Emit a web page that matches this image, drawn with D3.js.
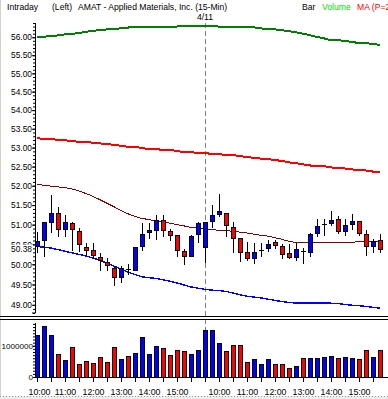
<!DOCTYPE html>
<html>
<head>
<meta charset="utf-8">
<script src="https://cdn.jsdelivr.net/npm/d3@7"></script>
<style>
  html, body { margin: 0; padding: 0; background: #fff; }
  svg { display: block; font-family: "Liberation Sans", Arial, sans-serif; }
</style>
</head>
<body>
<svg id="chart" width="388" height="399"></svg>
<script>
// Bars: 15-minute sessions, 4/10 from 10:00 and 4/11 from 9:30
const day1Times = ["10:00","10:15","10:30","10:45","11:00","11:15","11:30","11:45","12:00","12:15","12:30","12:45",
                   "13:00","13:15","13:30","13:45","14:00","14:15","14:30","14:45","15:00","15:15","15:30","15:45"];
const day2Times = ["9:30","9:45","10:00","10:15","10:30","10:45","11:00","11:15","11:30","11:45","12:00","12:15","12:30",
                   "12:45","13:00","13:15","13:30","13:45","14:00","14:15","14:30","14:45","15:00","15:15","15:30","15:45"];

const opens  = [50.45,50.61,51.08,51.29,50.89,51.05,50.85,50.43,50.36,50.18,50.05,49.91,49.69,49.88,49.86,50.46,50.81,50.86,51.12,50.84,50.74,50.33,50.22,50.77,
                50.43,51.10,51.26,51.29,50.95,50.66,50.30,50.17,50.35,50.40,50.56,50.45,50.28,50.19,50.33,50.30,50.79,51.02,51.04,51.14,50.85,51.01,51.10,50.76,50.47,50.61];
const highs  = [50.82,51.06,51.76,51.46,51.25,51.08,50.91,50.53,50.53,50.28,50.15,49.95,49.95,50.00,50.44,51.04,51.04,51.25,51.25,50.90,50.74,50.38,50.74,51.08,
                51.06,51.50,51.78,51.29,51.08,50.66,50.57,50.53,50.53,50.61,50.61,50.50,50.50,50.53,50.40,50.79,51.15,51.14,51.35,51.21,51.14,51.27,51.10,50.87,50.64,50.77];
const lows   = [50.32,50.21,50.82,50.72,50.72,50.36,50.33,50.24,50.18,49.86,49.87,49.49,49.56,49.76,49.86,50.36,50.65,50.64,50.72,50.62,50.21,50.02,50.22,50.57,
                50.07,50.95,51.21,50.70,50.31,50.08,50.10,50.04,50.21,50.34,50.40,50.15,50.15,50.12,50.04,50.21,50.72,50.74,50.98,50.79,50.74,50.89,50.74,50.24,50.31,50.31];
const closes = [50.58,51.06,51.30,50.89,51.06,50.89,50.51,50.36,50.24,50.10,49.98,49.69,49.91,49.88,50.43,50.76,50.86,51.12,50.86,50.74,50.36,50.21,50.70,51.04,
                51.06,51.24,51.34,50.99,50.67,50.31,50.15,50.30,50.35,50.51,50.48,50.25,50.19,50.38,50.33,50.76,50.97,51.02,51.12,50.85,51.00,51.10,50.79,50.45,50.59,50.38];
const volumes = [1344000,1634000,1344000,731000,559000,946000,409000,527000,441000,656000,495000,946000,591000,688000,753000,1270000,730000,990000,914000,700000,860000,830000,730000,860000,
                 1505000,1505000,1075000,817000,1020000,1020000,495000,590000,430000,590000,430000,430000,300000,366000,624000,624000,624000,656000,688000,624000,656000,624000,591000,850000,656000,850000];

// overlay lines
const greenLine  = [56.00,56.01,56.04,56.05,56.08,56.09,56.12,56.15,56.18,56.20,56.22,56.23,56.25,56.27,56.30,56.30,56.30,56.30,56.30,56.30,56.30,56.32,56.32,56.32,
                    56.32,56.32,56.30,56.30,56.30,56.30,56.29,56.28,56.25,56.22,56.22,56.20,56.17,56.14,56.10,56.06,56.01,55.97,55.92,55.92,55.90,55.87,55.84,55.84,55.81,55.79];
const redLine    = [53.25,53.23,53.22,53.21,53.19,53.18,53.15,53.15,53.13,53.11,53.10,53.07,53.05,53.02,53.02,52.99,52.96,52.96,52.94,52.94,52.91,52.88,52.88,52.86,
                    52.86,52.83,52.83,52.80,52.80,52.78,52.75,52.73,52.71,52.70,52.67,52.65,52.61,52.59,52.56,52.53,52.51,52.51,52.48,52.45,52.45,52.43,52.40,52.40,52.37,52.35];
const maroonLine = [52.04,52.01,51.99,51.97,51.95,51.92,51.87,51.80,51.73,51.64,51.55,51.46,51.37,51.28,51.21,51.16,51.13,51.10,51.07,51.04,51.00,50.97,50.93,50.91,
                    50.89,50.87,50.86,50.85,50.83,50.81,50.79,50.76,50.73,50.71,50.67,50.63,50.58,50.55,50.55,50.55,50.55,50.55,50.55,50.55,50.55,50.55,50.57,50.58,50.58,50.58];
const blueLine   = [50.45,50.43,50.41,50.37,50.33,50.29,50.25,50.21,50.16,50.10,50.03,49.96,49.88,49.81,49.75,49.69,49.67,49.65,49.62,49.58,49.54,49.49,49.44,49.41,
                    49.38,49.36,49.35,49.33,49.29,49.25,49.21,49.19,49.17,49.14,49.11,49.08,49.06,49.04,49.04,49.04,49.04,49.04,49.04,49.03,49.01,48.99,48.98,48.96,48.94,48.92];

const priceTicks = [49, 49.5, 50, 50.5, 51, 51.5, 52, 52.5, 53, 53.5, 54, 54.5, 55, 55.5, 56];
const volumeTicks = [0, 1000000];
const lastPrice = 50.38;

const width = 388, height = 399;
const svg = d3.select("#chart");
const upColor = "#0000ff", downColor = "#ff0000";

const keys = [...day1Times.map(t => "4/10 " + t), ...day2Times.map(t => "4/11 " + t)];
const bars = keys.map((k, i) => ({
  key: k, time: k.split(" ")[1],
  open: opens[i], high: highs[i], low: lows[i], close: closes[i], volume: volumes[i],
  volUp: i === 0 ? true : closes[i] >= closes[i - 1]
}));

const x = d3.scalePoint().domain(keys).range([36.7, 379.7]);
const y = d3.scaleLog().domain([48.8, 56.4]).range([313, 23]);
const yv = d3.scaleLinear().domain([0, 1730000]).range([377, 323]);
const px = k => Math.round(x(k));

// frame bits
svg.append("rect").attr("x", 0).attr("y", 0).attr("width", 1).attr("height", height).attr("fill", "#d4d0c8");
svg.append("rect").attr("x", 0).attr("y", 396).attr("width", width).attr("height", 3).attr("fill", "#ededed");
svg.append("line").attr("x1", 0).attr("x2", width).attr("y1", 396.5).attr("y2", 396.5)
  .attr("stroke", "#999").attr("stroke-dasharray", "1,2");

// header
const header = svg.append("g").style("font-size", "8.6px");
header.append("text").attr("x", 7).attr("y", 10).text("Intraday");
header.append("text").attr("x", 52).attr("y", 10).text("(Left)");
header.append("text").attr("x", 78).attr("y", 10).text("AMAT - Applied Materials, Inc.  (15-Min)");
header.append("text").attr("x", 302).attr("y", 10).text("Bar");
header.append("text").attr("x", 322).attr("y", 10).attr("fill", "#00dd00").text("Volume");
header.append("text").attr("x", 357).attr("y", 10).attr("fill", "#ff0000").text("MA (P=20)");

// clips
const defs = svg.append("defs");
defs.append("clipPath").attr("id", "clipPrice").append("rect").attr("x", 35).attr("y", 20).attr("width", width - 35).attr("height", 296);
defs.append("clipPath").attr("id", "clipVol").append("rect").attr("x", 35).attr("y", 321).attr("width", width - 35).attr("height", 57);

// day separator
const dayStart = "4/11 9:30";
svg.append("line")
  .attr("x1", px(dayStart) + 0.5).attr("x2", px(dayStart) + 0.5)
  .attr("y1", 23).attr("y2", 377)
  .attr("stroke", "#808080").attr("stroke-dasharray", "5,3");
svg.append("text").attr("x", px(dayStart)).attr("y", 19.5).attr("text-anchor", "middle")
  .style("font-size", "8.6px").text("4/11");

// price panel
const price = svg.append("g").attr("clip-path", "url(#clipPrice)");

const lines = [
  { values: greenLine, color: "#008000", w: 2 },
  { values: redLine, color: "#ff0000", w: 2 },
  { values: maroonLine, color: "#8b0000", w: 1 },
  { values: blueLine, color: "#0000ff", w: 1.4 }
];
const line = d3.line().x((d, i) => x(keys[i])).y(d => y(d));
price.selectAll("path.ma").data(lines).enter().append("path")
  .attr("class", "ma")
  .attr("d", d => line(d.values))
  .attr("fill", "none")
  .attr("stroke", d => d.color)
  .attr("stroke-width", d => d.w)
  .attr("shape-rendering", "crispEdges");

const candle = price.selectAll("g.candle").data(bars).enter().append("g").attr("class", "candle");
candle.append("line")
  .attr("x1", d => px(d.key) + 0.5).attr("x2", d => px(d.key) + 0.5)
  .attr("y1", d => Math.round(y(d.high))).attr("y2", d => Math.round(y(d.low)) + 1)
  .attr("stroke", "#000");
candle.filter(d => d.open !== d.close).append("rect")
  .attr("x", d => px(d.key) - 1.5)
  .attr("width", 4)
  .attr("y", d => Math.round(y(Math.max(d.open, d.close))) + 0.5)
  .attr("height", d => Math.max(1, Math.round(y(Math.min(d.open, d.close))) - Math.round(y(Math.max(d.open, d.close)))))
  .attr("fill", d => d.close > d.open ? upColor : downColor)
  .attr("stroke", "#000");
candle.filter(d => d.open === d.close).append("line")
  .attr("x1", d => px(d.key) - 2).attr("x2", d => px(d.key) + 3)
  .attr("y1", d => Math.round(y(d.close)) + 0.5).attr("y2", d => Math.round(y(d.close)) + 0.5)
  .attr("stroke", "#000");

// price axis
const fmt = d3.format(".2f");
svg.append("g").attr("transform", "translate(35,0)")
  .call(d3.axisLeft(y).tickValues(d3.range(48.8, 56.45, 0.1)).tickSize(2).tickFormat(""))
  .call(g => g.select(".domain").remove());
const yAxis = svg.append("g").attr("transform", "translate(35,0)")
  .call(d3.axisLeft(y).tickValues(priceTicks).tickSize(3).tickPadding(0).tickFormat(fmt));
yAxis.select(".domain").attr("d", "M0.5,23V313H-3");
yAxis.selectAll("text").style("font-size", "8.4px").attr("fill", "#000");

// last price marker
const lastY = y(lastPrice);
svg.append("rect").attr("x", 2).attr("y", lastY - 4.5).attr("width", 31).attr("height", 9.5).attr("fill", "#fff");
svg.append("text").attr("x", 32).attr("y", lastY).attr("dy", "0.32em").attr("text-anchor", "end")
  .style("font-size", "8.4px").text(fmt(lastPrice));

// panel separator
[316.5, 319.5].forEach(v => svg.append("line").attr("x1", 0).attr("x2", width).attr("y1", v).attr("y2", v).attr("stroke", "#000"));

// volume panel
const vol = svg.append("g").attr("clip-path", "url(#clipVol)");
vol.selectAll("rect").data(bars).enter().append("rect")
  .attr("x", d => px(d.key) - 1.5)
  .attr("width", 4)
  .attr("y", d => Math.round(yv(d.volume)) + 0.5)
  .attr("height", d => yv(0) - Math.round(yv(d.volume)))
  .attr("fill", d => d.volUp ? upColor : downColor)
  .attr("stroke", "#000");

svg.append("g").attr("transform", "translate(35,0)")
  .call(d3.axisLeft(yv).tickValues(d3.range(0, 1750000, 100000)).tickSize(2).tickFormat(""))
  .call(g => g.select(".domain").remove());
const vAxis = svg.append("g").attr("transform", "translate(35,0)")
  .call(d3.axisLeft(yv).tickValues(volumeTicks).tickSize(2).tickPadding(0).tickFormat(d3.format("d")));
vAxis.select(".domain").attr("d", "M0.5,323V377.5");
vAxis.selectAll("text").style("font-size", "8.1px").attr("fill", "#000");

// zero line and time axis
svg.append("line").attr("x1", 35).attr("x2", width).attr("y1", 377.5).attr("y2", 377.5).attr("stroke", "#000");
const tickBars = bars.filter(d => d.time.endsWith(":00") || d.time.endsWith(":30"));
svg.selectAll("line.xt").data(tickBars).enter().append("line")
  .attr("class", "xt")
  .attr("x1", d => px(d.key) + 0.5).attr("x2", d => px(d.key) + 0.5)
  .attr("y1", 378).attr("y2", 382)
  .attr("stroke", "#000");
svg.selectAll("text.xl").data(bars.filter(d => d.time.endsWith(":00"))).enter().append("text")
  .attr("class", "xl")
  .attr("x", (d, i) => px(d.key) + (i === 0 ? 2.5 : 0.5))
  .attr("y", 394.5)
  .attr("text-anchor", "middle")
  .style("font-size", "8.8px")
  .text(d => d.time);
</script>
</body>
</html>
